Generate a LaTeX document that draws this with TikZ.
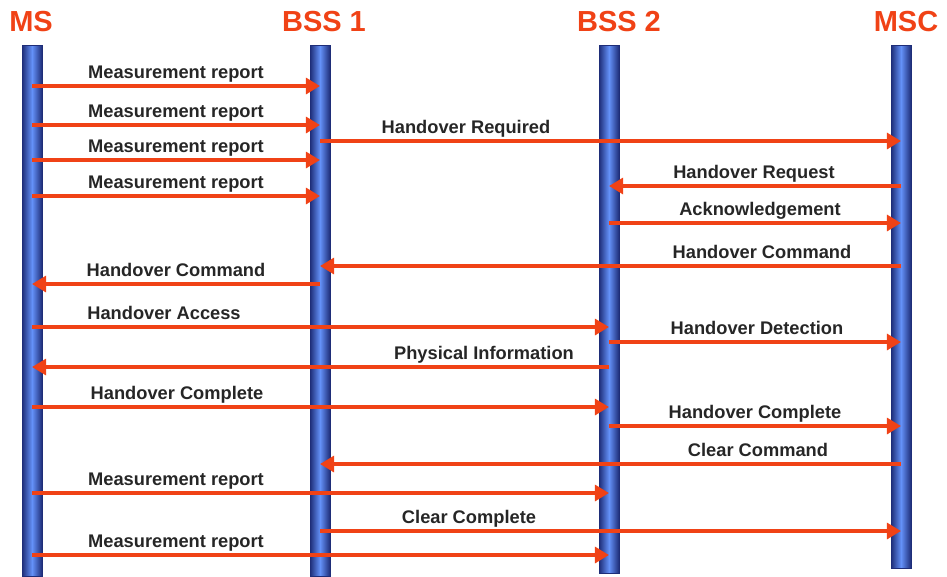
\documentclass[tikz,border=0pt]{standalone}
\usepackage{fontspec}
\setmainfont{Liberation Sans}
\usetikzlibrary{arrows.meta,positioning}

\definecolor{msgred}{RGB}{240,66,22}
\definecolor{bardark}{RGB}{30,45,120}
\definecolor{barlight}{RGB}{100,145,248}

\tikzset{
    lifeline/.style={rectangle, draw=bardark, line width=0.4pt,
        left color=bardark, right color=bardark, middle color=barlight,
        minimum width=20*0.02cm, inner sep=0pt, anchor=north},
    head/.style={font=\bfseries\fontsize{16.5}{18}\selectfont, text=msgred, anchor=base},
    msg/.style={draw=msgred, line width=2.8pt,
        -{Triangle[length=8pt,width=9pt]}},
    msglabel/.style={font=\bfseries\fontsize{10.4}{12}\selectfont, text=black!85, anchor=base}
}

\begin{document}
\begin{tikzpicture}[x=0.02cm, y=-0.02cm]
    \useasboundingbox (0,0) rectangle (947,576);

    % lifelines
    \node[lifeline, minimum height=531*0.02cm] (ms)   at (32,45)  {};
    \node[lifeline, minimum height=531*0.02cm] (bss1) at (320,45) {};
    \node[lifeline, minimum height=528*0.02cm] (bss2) at (609,45) {};
    \node[lifeline, minimum height=523*0.02cm] (msc)  at (901,45) {};

    % headers
    \node[head] (msname)   at (31,31)  {MS};
    \node[head] (bss1name) at (324,31) {BSS 1};
    \node[head] (bss2name) at (619,31) {BSS 2};
    \node[head] (mscname)  at (906,31) {MSC};

    % messages: y / from / to / label x / label
    \foreach \i/\y/\f/\t/\lx/\txt in {
        1/86/ms/bss1/176/Measurement report,
        2/125/ms/bss1/176/Measurement report,
        3/141/bss1/msc/466/Handover Required,
        4/160/ms/bss1/176/Measurement report,
        5/186/msc/bss2/754/Handover Request,
        6/196/ms/bss1/176/Measurement report,
        7/223/bss2/msc/760/Acknowledgement,
        8/266/msc/bss1/762/Handover Command,
        9/284/bss1/ms/176/Handover Command,
        10/327/ms/bss2/164/Handover Access,
        11/342/bss2/msc/757/Handover Detection,
        12/367/bss2/ms/484/Physical Information,
        13/407/ms/bss2/177/Handover Complete,
        14/426/bss2/msc/755/Handover Complete,
        15/464/msc/bss1/758/Clear Command,
        16/493/ms/bss2/176/Measurement report,
        17/531/bss1/msc/469/Clear Complete,
        18/555/ms/bss2/176/Measurement report}
    {
        \coordinate (from\i) at (\f |- 0,\y);
        \coordinate (to\i) at (\t |- 0,\y);
        \draw[msg] (from\i) -- (to\i);
        \node[msglabel] (lab\i) at (\lx,\y-8) {\txt};
    }
\end{tikzpicture}
\end{document}
